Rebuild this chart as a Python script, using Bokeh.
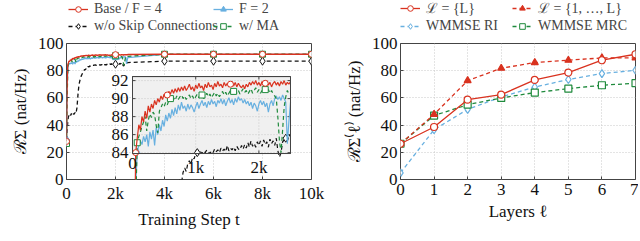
import math
from bokeh.plotting import figure
from bokeh.models import Range1d, FixedTicker, Legend, LegendItem
from bokeh.layouts import row, column
from bokeh.core.properties import value
from bokeh.embed import file_html
from bokeh.resources import INLINE

FONT = "Liberation Serif"
RED = "#d9321f"
BLUE = "#68b0e0"
GREEN = "#1f8a3c"
BLACK = "#111111"
FRAME_COL = "#444444"

# ---------------- data: training curves (dense part 0..2500 step 25) ----------------
steps_dense = list(range(0, 2501, 25))
steps_tail = [4000, 6000, 8000, 10000]

base_f4 = [28.0, 70.0, 84.0, 85.6, 87.1, 86.5, 88.0, 87.4, 88.6, 87.8,
           89.2, 88.5, 89.4, 88.9, 89.8, 89.3, 90.0, 89.6, 90.3, 89.9,
           90.5, 90.1, 90.4, 90.8, 90.5, 91.0, 90.6, 91.1, 90.7, 91.2,
           90.8, 91.3, 90.9, 91.4, 90.9, 91.2, 91.6, 91.0, 91.3, 90.8,
           91.5, 91.1, 91.7, 91.2, 91.4, 90.9, 91.6, 91.2, 91.8, 91.3,
           91.5, 91.0, 91.7, 91.3, 91.9, 91.4, 91.6, 91.2, 91.8, 91.4,
           91.7, 91.3, 91.6, 91.9, 91.4, 91.8, 91.3, 91.7, 91.4, 91.2,
           91.5, 91.1, 91.6, 91.3, 91.8, 91.5, 91.9, 91.6, 92.0, 91.5,
           91.8, 91.4, 91.9, 91.6, 91.7, 92.0, 91.5, 91.8, 91.3, 91.7,
           91.9, 91.5, 91.8, 91.4, 91.9, 91.6, 92.0, 91.5, 91.8, 91.6,
           91.9]
base_f4_tail = [92.1, 92.1, 92.1, 92.1]

f2 = [30.0, 65.0, 80.0, 84.1, 84.8, 85.3, 84.9, 85.8, 85.2, 86.0,
      84.7, 86.3, 85.5, 86.5, 84.8, 86.8, 86.0, 87.1, 86.4, 87.6,
      86.9, 88.2, 87.5, 88.4, 87.8, 88.8, 88.1, 89.0, 88.3, 89.3,
      88.7, 89.6, 88.9, 89.2, 88.6, 89.4, 88.8, 89.3, 89.0, 88.5,
      89.1, 89.6, 88.9, 89.4, 89.8, 89.2, 89.6, 89.0, 89.7, 89.3,
      89.9, 89.4, 89.7, 89.1, 89.8, 89.5, 90.0, 89.4, 89.9, 89.2,
      89.7, 90.1, 89.5, 89.9, 89.3, 90.0, 89.6, 90.2, 89.8, 90.0,
      89.5, 89.9, 89.4, 89.7, 89.2, 89.6, 88.9, 89.5, 89.2, 88.6,
      89.4, 89.8, 89.3, 89.7, 89.1, 89.5, 88.5, 89.4, 89.8, 89.2,
      90.0, 90.3, 89.9, 90.2, 89.8, 90.4, 90.0, 89.6, 85.0, 87.5,
      89.6]
f2_tail = [92.0, 92.0, 92.0, 92.0]

with_ma = [26.5, 60.0, 78.0, 85.1, 85.8, 86.3, 86.9, 87.4, 88.0, 86.4,
           87.6, 88.3, 87.9, 88.5, 88.2, 87.0, 86.2, 88.6, 89.0, 89.4,
           89.1, 89.6, 89.3, 89.8, 90.0, 89.6, 90.1, 89.8, 90.3, 89.9,
           90.2, 90.4, 90.0, 90.3, 89.9, 90.2, 90.4, 90.0, 90.3, 89.9,
           90.2, 90.5, 90.1, 90.2, 90.4, 90.0, 90.3, 90.6, 90.2, 90.5,
           90.1, 90.4, 90.7, 90.3, 90.6, 90.2, 90.5, 90.8, 90.4, 90.7,
           90.3, 90.6, 90.9, 90.5, 90.8, 91.0, 90.6, 90.9, 90.5, 90.8,
           91.1, 90.7, 90.9, 90.5, 90.8, 91.1, 90.6, 90.9, 91.2, 90.7,
           91.0, 90.6, 90.9, 91.2, 91.0, 90.7, 91.0, 90.6, 90.9, 90.5,
           90.3, 90.0, 87.9, 85.3, 84.0, 86.5, 89.1, 90.2, 90.9, 90.5,
           90.6]
with_ma_tail = [92.1, 92.1, 92.1, 92.1]

no_skip = [29.0, 36.0, 42.0, 46.0, 47.0, 46.5, 48.0, 47.2, 48.5, 47.6,
           48.2, 49.0, 47.8, 48.6, 49.2, 48.4, 50.0, 52.5, 58.0, 64.0,
           68.0, 71.0, 73.0, 74.5, 76.0, 77.0, 78.0, 79.0, 79.8, 80.5,
           81.0, 80.6, 81.8, 82.3, 81.9, 82.8, 83.1, 82.7, 83.5, 83.3,
           83.9, 84.0, 83.8, 84.1, 83.9, 84.2, 84.0, 84.3, 84.1, 83.9,
           84.2, 84.0, 84.4, 84.1, 84.3, 84.0, 84.5, 84.2, 84.4, 84.1,
           84.8, 84.2, 84.5, 84.3, 84.6, 84.2, 84.7, 84.4, 84.3, 84.8,
           84.4, 84.9, 84.5, 85.1, 84.6, 85.3, 84.7, 85.0, 84.6, 85.2,
           84.8, 85.3, 84.7, 85.4, 84.9, 85.2, 84.6, 85.5, 85.0, 85.3,
           84.8, 85.6, 84.2, 83.5, 84.0, 85.2, 85.4, 85.6, 85.3, 85.8,
           86.0]
no_skip_tail = [87.0, 87.0, 87.0, 87.0]

main_mark_steps = [0, 2000, 4000, 6000, 8000, 10000]
inset_mark_steps_red = [50, 550, 1550, 2100]
inset_mark_steps_blue = [75]
inset_mark_steps_green = [75, 600, 1100, 1600, 2100]
inset_mark_steps_black = [1025, 2425]

main_xticks = [0, 2000, 4000, 6000, 8000, 10000]
main_xlabels = ["0", "2k", "4k", "6k", "8k", "10k"]
main_yticks = [0, 20, 40, 60, 80, 100]
inset_xrange = (0, 2500)
inset_yrange = (83.9, 92.45)
inset_xticks = [0, 1000, 2000]
inset_xlabels = ["0", "1k", "2k"]
inset_yticks = [84, 86, 88, 90, 92]
inset_ylabels = ["84", "86", "88", "90", "92"]

# ---------------- data: layers ----------------
layers = [0, 1, 2, 3, 4, 5, 6, 7]
set_last = [26.3, 38.6, 58.7, 62.4, 73.2, 78.6, 87.7, 92.1]
set_all = [26.3, 47.9, 72.7, 81.8, 86.0, 87.7, 89.4, 89.4]
wmmse_ri = [4.9, 36.6, 51.6, 60.7, 68.0, 73.5, 77.9, 80.3]
wmmse_mrc = [26.3, 47.0, 55.0, 60.0, 63.9, 66.8, 69.3, 70.8]

LEG_H = 34
TOP = 9
FRAME_H = 136
BOTTOM = 57
W_LEFT = 325
W_RIGHT = 313


def style(p):
    p.outline_line_color = FRAME_COL
    p.outline_line_width = 1
    p.xgrid.grid_line_color = "#c8c8c8"
    p.ygrid.grid_line_color = "#c8c8c8"
    p.xgrid.grid_line_dash = "1 2"
    p.ygrid.grid_line_dash = "1 2"
    for ax in p.axis:
        ax.axis_line_color = None
        ax.major_tick_in = 3
        ax.major_tick_out = 0
        ax.major_tick_line_color = FRAME_COL
        ax.minor_tick_line_color = None
        ax.major_label_text_font = FONT
        ax.major_label_text_font_size = "17px"
        ax.major_label_text_color = "#111111"
        ax.axis_label_text_font = FONT
        ax.axis_label_text_font_size = "17px"
        ax.axis_label_text_font_style = "normal"
        ax.axis_label_text_color = "#111111"
    p.xaxis.major_label_standoff = 4
    p.yaxis.major_label_standoff = 3
    p.xaxis.axis_label_standoff = 4
    p.yaxis.axis_label_standoff = 5


def pick(xs, ys, keys):
    idx = [xs.index(k) for k in keys]
    return [xs[i] for i in idx], [ys[i] for i in idx]


def legend_figure(width, entries, col_x):
    """A small figure (frame aligned with the plot below) holding only the two legend columns.
    Its proxy renderers reuse the series data, which lies outside this figure's ranges."""
    lf = figure(width=width, height=LEG_H, x_range=Range1d(-2, -1), y_range=Range1d(-2, -1),
                output_backend="svg", toolbar_location=None, title_location=None,
                x_axis_location=None, y_axis_location=None, min_border=0,
                outline_line_color=None)
    lf.grid.visible = False
    for col_entries, vx in zip(entries, col_x):
        its = []
        for label, xs, ys, col, dash, mk, fill, sz in col_entries:
            lr = lf.line(xs, ys, line_color=col, line_width=1.3, line_dash=dash)
            sr = lf.scatter(xs, ys, marker=mk, size=sz, line_color=col, fill_color=fill, line_width=1)
            its.append(LegendItem(label=label, renderers=[lr, sr]))
        lf.add_layout(Legend(items=its, orientation="vertical", location=(vx, 0),
                             label_text_font=FONT, label_text_font_size="14px",
                             glyph_width=20, glyph_height=14, label_height=14, label_standoff=6,
                             spacing=1, padding=0, margin=0, border_line_color=None,
                             background_fill_alpha=0), "center")
    return lf


# ---------------- left main plot ----------------
p1 = figure(width=W_LEFT, height=TOP + FRAME_H + BOTTOM, x_range=Range1d(0, 10000), y_range=Range1d(0, 100),
            output_backend="svg", toolbar_location=None, title_location=None,
            min_border_left=66, min_border_right=14, min_border_top=TOP, min_border_bottom=BOTTOM)
p1.xaxis.ticker = FixedTicker(ticks=main_xticks)
p1.xaxis.major_label_overrides = {t: l for t, l in zip(main_xticks, main_xlabels)}
p1.yaxis.ticker = FixedTicker(ticks=main_yticks)
p1.xaxis.axis_label = "Training Step t"
p1.yaxis.axis_label = "ℛΣ (nat/Hz)"
style(p1)

t_main = steps_dense + steps_tail
series = [
    ("w/o Skip Connections", no_skip + no_skip_tail, no_skip, inset_mark_steps_black,
     BLACK, "4 3", "diamond", "white", 8),
    ("F = 2", f2 + f2_tail, f2, inset_mark_steps_blue, BLUE, "solid", "triangle", BLUE, 6),
    ("w/ MA", with_ma + with_ma_tail, with_ma, inset_mark_steps_green,
     GREEN, "4 3", "square", "white", 6),
    ("Base / F = 4", base_f4 + base_f4_tail, base_f4, inset_mark_steps_red,
     RED, "solid", "circle", "white", 6),
]
style_of = {}
for name, ys, _, _, col, dash, mk, fill, sz in series:
    p1.line(t_main, ys, line_color=col, line_width=1.3, line_dash=dash)
    mx, my = pick(t_main, ys, main_mark_steps)
    p1.scatter(mx, my, marker=mk, size=sz, line_color=col, fill_color=fill, line_width=1)
    style_of[name] = (name, t_main, ys, col, dash, mk, fill, sz)

# ---------------- inset (sub-coordinates inside the left plot) ----------------
sub = p1.subplot(x_source=Range1d(*inset_xrange), y_source=Range1d(*inset_yrange),
                 x_target=Range1d(2694, 9143), y_target=Range1d(19.1, 75.7))
x0, x1 = inset_xrange
y0, y1 = inset_yrange
sub.quad(left=[x0], right=[x1], bottom=[y0], top=[y1],
         fill_color="#f0f0f0", line_color=FRAME_COL, line_width=1)
sub.segment(x0=[x0] * len(inset_yticks), y0=inset_yticks, x1=[x1] * len(inset_yticks), y1=inset_yticks,
            line_color="#c8c8c8", line_dash="1 2")
sub.segment(x0=inset_xticks[1:], y0=[y0] * 2, x1=inset_xticks[1:], y1=[y1] * 2,
            line_color="#c8c8c8", line_dash="1 2")
sub.ray(x=inset_xticks, y=[y0] * 3, length=3, length_units="screen", angle=math.pi / 2,
        line_color=FRAME_COL)
sub.ray(x=inset_xticks, y=[y1] * 3, length=3, length_units="screen", angle=-math.pi / 2,
        line_color=FRAME_COL)
sub.ray(x=[x0] * 5, y=inset_yticks, length=3, length_units="screen", angle=0, line_color=FRAME_COL)
sub.ray(x=[x1] * 5, y=inset_yticks, length=3, length_units="screen", angle=math.pi, line_color=FRAME_COL)

for name, _, yd, marks, col, dash, mk, fill, sz in series:
    sub.line(steps_dense, yd, line_color=col, line_width=1.2, line_dash=dash)
    mx, my = pick(steps_dense, yd, marks)
    sub.scatter(mx, my, marker=mk, size=sz, line_color=col, fill_color=fill, line_width=1)

sub.quad(left=[x0], right=[x1], bottom=[y0], top=[y1], fill_color=None,
         line_color=FRAME_COL, line_width=1)
sub.text(x=inset_xticks, y=[y0] * 3, text=inset_xlabels, text_align="center", text_baseline="top",
         y_offset=4, text_font=value(FONT), text_font_size="17px", text_color="#111111")
sub.text(x=[x0] * 5, y=inset_yticks, text=inset_ylabels, text_align="right", text_baseline="middle",
         x_offset=-4, text_font=value(FONT), text_font_size="17px", text_color="#111111")

leg1 = legend_figure(W_LEFT,
                     [[style_of["Base / F = 4"], style_of["w/o Skip Connections"]],
                      [style_of["F = 2"], style_of["w/ MA"]]],
                     [2, 147])

# ---------------- right plot ----------------
p2 = figure(width=W_RIGHT, height=TOP + FRAME_H + BOTTOM, x_range=Range1d(0, 7), y_range=Range1d(0, 100),
            output_backend="svg", toolbar_location=None, title_location=None,
            min_border_left=75, min_border_right=3, min_border_top=TOP, min_border_bottom=BOTTOM)
p2.xaxis.ticker = FixedTicker(ticks=layers)
p2.yaxis.ticker = FixedTicker(ticks=main_yticks)
p2.xaxis.axis_label = "Layers ℓ"
p2.yaxis.axis_label = "ℛΣ⁽ℓ⁾ (nat/Hz)"
style(p2)

rseries = [
    ("WMMSE RI", wmmse_ri, BLUE, "4 3", "diamond", "white", 8),
    ("WMMSE MRC", wmmse_mrc, GREEN, "4 3", "square", "white", 7),
    ("ℒ = {1, …, L}", set_all, RED, "4 3", "triangle", RED, 7),
    ("ℒ = {L}", set_last, RED, "solid", "circle", "white", 7),
]
rstyle = {}
for name, ys, col, dash, mk, fill, sz in rseries:
    p2.line(layers, ys, line_color=col, line_width=1.3, line_dash=dash)
    p2.scatter(layers, ys, marker=mk, size=sz, line_color=col, fill_color=fill, line_width=1.2)
    rstyle[name] = (name, layers, ys, col, dash, mk, fill, sz)

leg2 = legend_figure(W_RIGHT,
                     [[rstyle["ℒ = {L}"], rstyle["WMMSE RI"]],
                      [rstyle["ℒ = {1, …, L}"], rstyle["WMMSE MRC"]]],
                     [0, 112])

layout = row(column(leg1, p1), column(leg2, p2))
open("out.html", "w").write(file_html(layout, INLINE))
